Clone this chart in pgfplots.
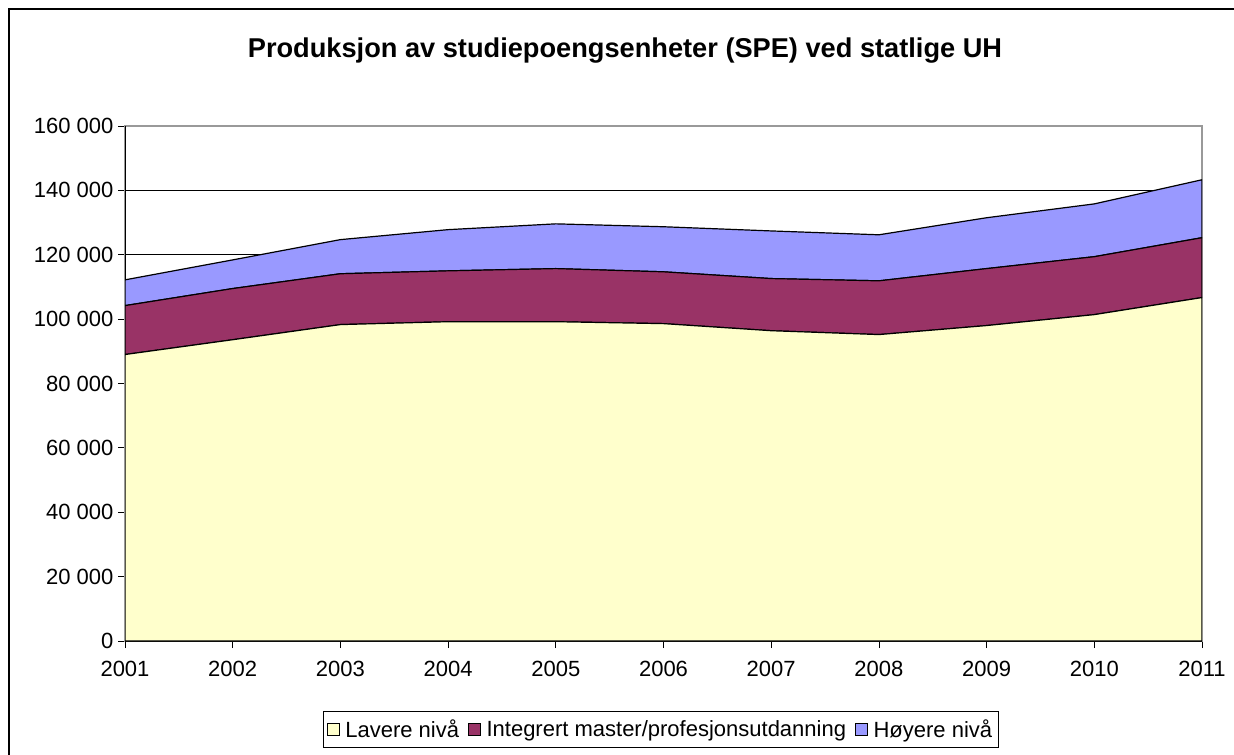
\documentclass[border=0pt]{standalone}
\usepackage{fontspec}
\setmainfont{Liberation Sans}
\usepackage{pgfplots}
\pgfplotsset{compat=1.18}
\definecolor{lav}{HTML}{FFFFCC}
\definecolor{integ}{HTML}{993366}
\definecolor{hoy}{HTML}{9999FF}
\begin{document}
\begin{tikzpicture}
\useasboundingbox (0,0) rectangle (925.5pt,565.5pt);
\fill[white] (0,0) rectangle (925.5pt,565.5pt);
\draw[black, line width=0.9pt] (6.75pt,-5pt) -- (6.75pt,558.75pt) -- (935pt,558.75pt);
\node[font=\bfseries\fontsize{20.4}{24}\selectfont] at (468.75pt,527.5pt) {Produksjon av studiepoengsenheter (SPE) ved statlige UH};
\begin{axis}[
  at={(93.75pt,84.75pt)}, anchor=south west,
  scale only axis, width=807.75pt, height=386.25pt,
  xmin=2001, xmax=2011, ymin=0, ymax=160000,
  scaled y ticks=false, scaled x ticks=false,
  stack plots=y,
  xtick={2001,2002,2003,2004,2005,2006,2007,2008,2009,2010,2011},
  xticklabels={2001,2002,2003,2004,2005,2006,2007,2008,2009,2010,2011},
  ytick={0,20000,40000,60000,80000,100000,120000,140000,160000},
  yticklabels={0,20 000,40 000,60 000,80 000,100 000,120 000,140 000,160 000},
  tick label style={font=\fontsize{16.5}{19}\selectfont},
  tick align=outside, tick pos=left,
  major tick length=5.25pt,
  tick style={black, line width=0.6pt},
  xticklabel style={yshift=-6.5pt},
  yticklabel style={xshift=0pt},
  ymajorgrids, grid style={black, line width=0.6pt},
  axis line style={gray!80, line width=0.8pt},
  legend columns=3,
  legend style={at={(0.4977,-0.1357)}, anchor=north, draw=black, line width=0.6pt,
    font=\fontsize{16.5}{19}\selectfont, inner xsep=3pt, inner ysep=4pt,
    /tikz/every odd column/.append style={column sep=2pt},
    /tikz/every even column/.append style={column sep=5pt}},
  legend cell align=left,
  legend image code/.code={\draw[#1, draw=black, line width=0.6pt] (0pt,-4.5pt) rectangle (9pt,4.5pt);},
]
\addplot[fill=lav, draw=black, line width=0.9pt] coordinates {
(2001,89000) (2002,93600) (2003,98300) (2004,99200) (2005,99200) (2006,98600) (2007,96400) (2008,95200) (2009,98000) (2010,101400) (2011,106700)} \closedcycle;
\addlegendentry{Lavere nivå}
\addplot[fill=integ, draw=black, line width=0.9pt] coordinates {
(2001,15200) (2002,15900) (2003,15800) (2004,15800) (2005,16500) (2006,16100) (2007,16200) (2008,16700) (2009,17700) (2010,18000) (2011,18600)} \closedcycle;
\addlegendentry{Integrert master/profesjonsutdanning}
\addplot[fill=hoy, draw=black, line width=0.9pt] coordinates {
(2001,8000) (2002,8900) (2003,10600) (2004,12800) (2005,13900) (2006,14000) (2007,14800) (2008,14300) (2009,15800) (2010,16400) (2011,18000)} \closedcycle;
\addlegendentry{Høyere nivå}
\draw[black, line width=0.9pt] (rel axis cs:0,0) -- (rel axis cs:0,1);
\draw[black, line width=0.9pt] (rel axis cs:0,0) -- (rel axis cs:1,0);
\end{axis}
\end{tikzpicture}
\end{document}
